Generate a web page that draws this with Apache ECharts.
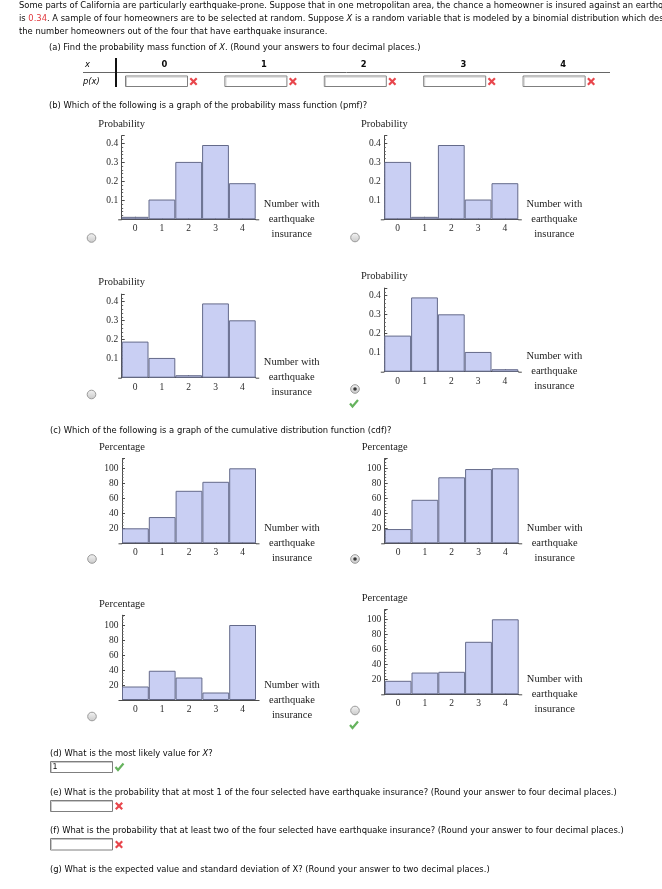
<!DOCTYPE html>
<html><head><meta charset="utf-8">
<script src="https://cdn.jsdelivr.net/npm/echarts@6/dist/echarts.min.js"></script>
<style>html,body{margin:0;padding:0;background:#fff}#c{width:662px;height:889px}</style>
</head><body><div id="c"></div>
<script>
// ---------- data ----------
const categories = ['0', '1', '2', '3', '4'];
const pmfA = [0.013, 0.104, 0.302, 0.391, 0.190];
const pmfB = [0.302, 0.013, 0.391, 0.104, 0.190];
const pmfC = [0.190, 0.104, 0.013, 0.391, 0.302];
const pmfD = [0.190, 0.391, 0.302, 0.104, 0.013];
const cdfA = [20, 35, 70, 82, 100];
const cdfB = [19, 58, 88, 99, 100];
const cdfC = [18, 39, 30, 10, 100];
const cdfD = [18, 29, 30, 70, 100];
const pmfTickLabels = ['0.1', '0.2', '0.3', '0.4'];
const cdfTickLabels = ['20', '40', '60', '80', '100'];
const tableHeaders = ['0', '1', '2', '3', '4'];
const pmfName = 'Probability';
const cdfName = 'Percentage';
const xName = 'Number with\nearthquake\ninsurance';
const dAnswer = '1';

// ---------- layout ----------
const SANS = 'DejaVu Sans';
const SERIF = 'Liberation Serif';
const cv = document.createElement('canvas').getContext('2d');
function mw(t, size, fam, style) { cv.font = (style || '') + ' ' + size + 'px "' + fam + '"'; return cv.measureText(t).width; }
const cLine = '(c) Which of the following is a graph of the cumulative distribution function (cdf)?';
const F = Math.round(10 * 344 / mw(cLine, 10, SANS) * 10) / 10;
const TXT = '#0a0a0a';

const panels = [
  { data: pmfA, kind: 'pmf', left: 121.7, bottom: 219.3, radio: [91.5, 238], sel: false },
  { data: pmfB, kind: 'pmf', left: 384.3, bottom: 219.3, radio: [355, 237.5], sel: false },
  { data: pmfC, kind: 'pmf', left: 121.7, bottom: 377.7, radio: [91.5, 394.5], sel: false },
  { data: pmfD, kind: 'pmf', left: 384.3, bottom: 371.7, radio: [355, 389], sel: true, check: [353.5, 403.5] },
  { data: cdfA, kind: 'cdf', left: 122, bottom: 543.3, radio: [92, 559], sel: false },
  { data: cdfB, kind: 'cdf', left: 384.7, bottom: 543.3, radio: [355, 559], sel: true },
  { data: cdfC, kind: 'cdf', left: 122, bottom: 700, radio: [92, 716.5], sel: false },
  { data: cdfD, kind: 'cdf', left: 384.7, bottom: 694.3, radio: [355, 710.5], sel: false, check: [353.5, 725] }
];

const grids = [], xAxes = [], yAxes = [], series = [];
const axisCol = '#4a4a4a', labCol = '#2a2a2a';
const g = [];
panels.forEach((p, i) => {
  const isPmf = p.kind === 'pmf';
  const h = isPmf ? 83.6 : 84.75;
  grids.push({ left: p.left, top: p.bottom - h, width: 134, height: h });
  xAxes.push({
    gridIndex: i, type: 'category', data: categories, boundaryGap: true,
    name: xName, nameLocation: 'end', nameGap: 36,
    nameTextStyle: { fontFamily: SERIF, fontSize: 10.5, color: '#222', align: 'center', verticalAlign: 'middle', lineHeight: 15 },
    axisLine: { show: true, lineStyle: { color: axisCol, width: 1 } },
    axisTick: { show: true, inside: true, length: 2.5, alignWithLabel: true, lineStyle: { color: axisCol } },
    axisLabel: { fontFamily: SERIF, fontSize: 9.5, color: labCol, margin: 4.5 },
    splitLine: { show: false }
  });
  const ticks = isPmf ? pmfTickLabels : cdfTickLabels;
  yAxes.push({
    gridIndex: i, type: 'value', min: 0, max: isPmf ? 0.44 : 113, interval: isPmf ? 0.1 : 20,
    name: isPmf ? pmfName : cdfName, nameLocation: 'end', nameGap: 6,
    nameTextStyle: { fontFamily: SERIF, fontSize: 10.5, color: '#222', align: 'center' },
    axisLine: { show: true, lineStyle: { color: axisCol, width: 1 } },
    axisTick: { show: true, inside: true, length: 3, lineStyle: { color: axisCol } },
    minorTick: { show: true, splitNumber: 5, length: 1.5, lineStyle: { color: '#666' } },
    axisLabel: {
      fontFamily: SERIF, fontSize: 9.5, color: labCol, margin: 3.5,
      formatter: v => { const s = isPmf ? (Math.round(v * 10) / 10).toFixed(1) : String(Math.round(v));
        return (ticks.includes(s) && Math.abs(Number(s) - v) < 1e-6) ? s : ''; }
    },
    splitLine: { show: false }
  });
  series.push({
    type: 'bar', xAxisIndex: i, yAxisIndex: i, data: p.data, barWidth: '100%', barGap: '0%',
    itemStyle: { color: '#c9cff3', borderColor: '#646a8a', borderWidth: 1 },
    silent: true, animation: false
  });
  // short overhang of the horizontal axis beyond the plot, as in the reference
  g.push({ type: 'line', silent: true, shape: { x1: p.left - 3.5, y1: p.bottom + 0.5, x2: p.left, y2: p.bottom + 0.5 }, style: { stroke: axisCol, lineWidth: 1 } });
  g.push({ type: 'line', silent: true, shape: { x1: p.left + 134, y1: p.bottom + 0.5, x2: p.left + 137.5, y2: p.bottom + 0.5 }, style: { stroke: axisCol, lineWidth: 1 } });
});

// ---------- graphics ----------
function T(x, y, text, o) {
  g.push({ type: 'text', x: x, y: y, silent: true,
    style: Object.assign({ text: text, fontFamily: SANS, fontSize: F, fill: TXT, align: 'left', verticalAlign: 'middle' }, o || {}) });
}
const richBase = { fontFamily: SANS, fontSize: F, fill: TXT };
const rich = { r: Object.assign({}, richBase, { fill: '#e0393e' }), i: Object.assign({}, richBase, { fontStyle: 'italic' }) };
function cross(x, y) {
  const s = 3.2;
  g.push({ type: 'polyline', silent: true, shape: { points: [[x - s, y - s], [x + s, y + s]] }, style: { stroke: '#e8464c', lineWidth: 2.2 } });
  g.push({ type: 'polyline', silent: true, shape: { points: [[x - s, y + s], [x + s, y - s]] }, style: { stroke: '#e8464c', lineWidth: 2.2 } });
}
function check(x, y) {
  g.push({ type: 'polyline', silent: true, shape: { points: [[x - 3.5, y], [x - 1, y + 3], [x + 4.5, y - 3.5]] }, style: { stroke: '#66b35e', lineWidth: 2.2, fill: null } });
}
function box(x, y, w, h) {
  g.push({ type: 'rect', silent: true, shape: { x: x + 0.5, y: y + 0.5, width: w, height: h }, style: { fill: '#fff', stroke: '#7f7f7f', lineWidth: 1 } });
  g.push({ type: 'polyline', silent: true, shape: { points: [[x + 1.5, y + h], [x + 1.5, y + 1.5], [x + w, y + 1.5]] }, style: { stroke: '#c8c8c8', lineWidth: 1, fill: null } });
}
function radio(x, y, sel) {
  g.push({ type: 'circle', silent: true, shape: { cx: x, cy: y, r: 4.3 },
    style: { fill: { type: 'linear', x: 0, y: 0, x2: 0, y2: 1, colorStops: [{ offset: 0, color: '#f4f4f4' }, { offset: 1, color: '#c9c9c9' }] }, stroke: '#9a9a9a', lineWidth: 1 } });
  if (sel) g.push({ type: 'circle', silent: true, shape: { cx: x, cy: y, r: 1.8 }, style: { fill: '#3a3a3a' } });
}

T(19, 5.7, 'Some parts of California are particularly earthquake-prone. Suppose that in one metropolitan area, the chance a homeowner is insured against an earthquake');
T(19, 19, 'is {r|0.34}. A sample of four homeowners are to be selected at random. Suppose {i|X} is a random variable that is modeled by a binomial distribution which describes', { rich: rich });
T(19, 32.3, 'the number homeowners out of the four that have earthquake insurance.');
T(49, 47.5, '(a) Find the probability mass function of {i|X}. (Round your answers to four decimal places.)', { rich: rich });

// table
T(85, 65, 'x', { fontStyle: 'italic' });
T(83, 81.5, 'p(x)', { fontStyle: 'italic' });
tableHeaders.forEach((h, k) => {
  T(164.3 + 99.7 * k, 65, h, { align: 'center', fontWeight: 'bold' });
  const bx = 125 + 99.4 * k;
  box(bx, 75.5, 62, 10.5);
  cross(bx + 68.5, 81.5);
});
g.push({ type: 'line', silent: true, shape: { x1: 83, y1: 72.5, x2: 610, y2: 72.5 }, style: { stroke: '#666', lineWidth: 1 } });
g.push({ type: 'line', silent: true, shape: { x1: 116, y1: 58, x2: 116, y2: 87 }, style: { stroke: '#111', lineWidth: 2 } });

T(49, 106, '(b) Which of the following is a graph of the probability mass function (pmf)?');
T(50, 431, cLine);

panels.forEach(p => { radio(p.radio[0], p.radio[1], p.sel); if (p.check) check(p.check[0], p.check[1]); });

T(50, 754, '(d) What is the most likely value for {i|X}?', { rich: rich });
box(50, 761, 62, 11);
T(52.5, 767, dAnswer, { fontSize: F - 0.5 });
check(119, 767);
T(50, 793, '(e) What is the probability that at most 1 of the four selected have earthquake insurance? (Round your answer to four decimal places.)');
box(50, 800, 62, 11);
cross(119, 806);
T(50, 831, '(f) What is the probability that at least two of the four selected have earthquake insurance? (Round your answer to four decimal places.)');
box(50, 838, 62, 11.5);
cross(119, 844.5);
T(50, 870, '(g) What is the expected value and standard deviation of X? (Round your answer to two decimal places.)');

const chart = echarts.init(document.getElementById('c'), null, { renderer: 'canvas' });
chart.setOption({
  backgroundColor: '#ffffff',
  animation: false,
  grid: grids, xAxis: xAxes, yAxis: yAxes, series: series,
  graphic: { elements: g }
});
</script></body></html>
